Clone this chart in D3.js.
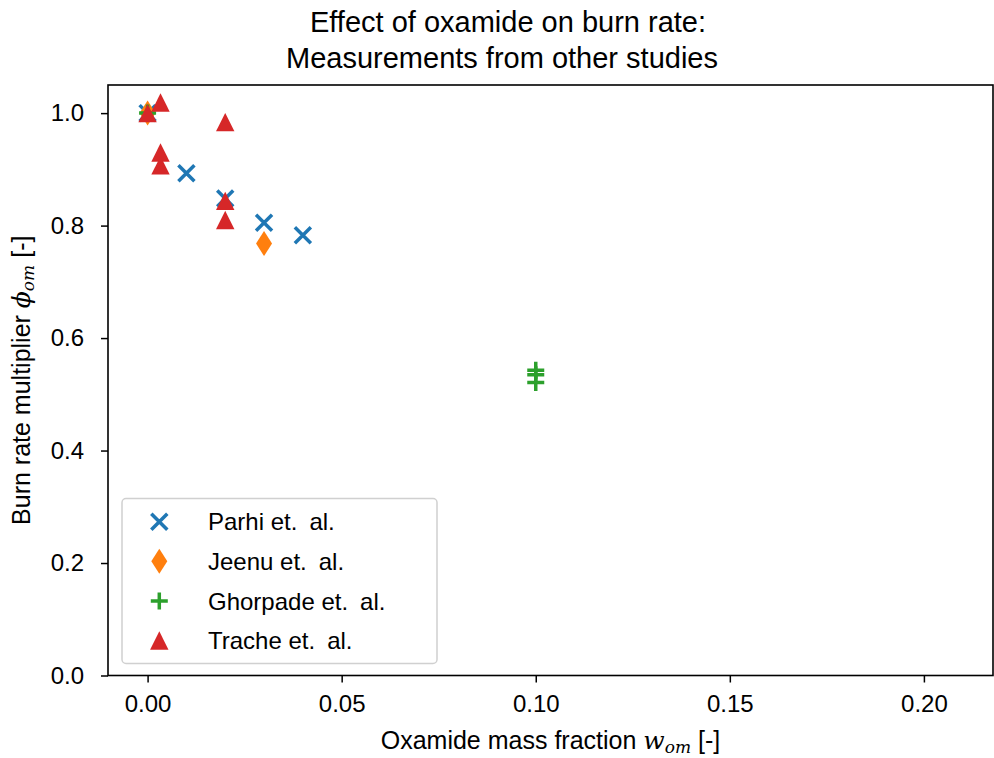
<!DOCTYPE html>
<html>
<head>
<meta charset="utf-8">
<script src="https://cdn.jsdelivr.net/npm/d3@7"></script>
<style>
  body { margin: 0; background: #fff; }
  text { font-family: "Liberation Sans", Arial, sans-serif; fill: #000; }
</style>
</head>
<body>
<svg width="994" height="758"></svg>
<script>
// values
var parhiX = [0, 0.01, 0.02, 0.03, 0.04];
var parhiY = [1.0, 0.893, 0.848, 0.805, 0.783];
var jeenuX = [0, 0.03];
var jeenuY = [1.0, 0.768];
var ghorpadeX = [0, 0.1, 0.1, 0.1];
var ghorpadeY = [1.0, 0.543, 0.535, 0.521];
var tracheX = [0, 0.00333, 0.00333, 0.00333, 0.02, 0.02, 0.02];
var tracheY = [1.0, 1.019, 0.930, 0.907, 0.984, 0.844, 0.810];
var xTicks = [0, 0.05, 0.1, 0.15, 0.2];
var yTicks = [0, 0.2, 0.4, 0.6, 0.8, 1.0];

var series = [
  {name: "Parhi et.\u2002al.", xs: parhiX, ys: parhiY, color: "#1f77b4", marker: "x"},
  {name: "Jeenu et.\u2002al.", xs: jeenuX, ys: jeenuY, color: "#ff7f0e", marker: "d"},
  {name: "Ghorpade et.\u2002al.", xs: ghorpadeX, ys: ghorpadeY, color: "#2ca02c", marker: "+"},
  {name: "Trache et.\u2002al.", xs: tracheX, ys: tracheY, color: "#d62728", marker: "^"}
];

// plot box (named to avoid clashing with window.top)
var pLeft = 108, pRight = 993, pTop = 85, pBottom = 675.5;
var svg = d3.select("svg");

var x = d3.scaleLinear().domain([-0.0102, 0.2178]).range([pLeft, pRight]);
var y = d3.scaleLinear().domain([0, 1.05]).range([pBottom, pTop]);

// marker drawing
function drawMarker(g, type, color) {
  if (type === "x") {
    g.append("path").attr("d", "M-8,-8L8,8M-8,8L8,-8")
      .attr("stroke", color).attr("stroke-width", 3.5).attr("fill", "none");
  } else if (type === "+") {
    g.append("path").attr("d", "M-8.5,0L8.5,0M0,-8.5L0,8.5")
      .attr("stroke", color).attr("stroke-width", 3.5).attr("fill", "none");
  } else if (type === "d") {
    g.append("path").attr("d", "M0,-12.5L8,0L0,12.5L-8,0Z").attr("fill", color);
  } else {
    g.append("path").attr("d", "M0,-9.2L9.2,9.2L-9.2,9.2Z").attr("fill", color);
  }
}

var plot = svg.append("g");
series.forEach(function(s) {
  var pts = s.xs.map(function(v, i) { return [v, s.ys[i]]; });
  plot.selectAll(null).data(pts).enter().append("g")
    .attr("transform", d => "translate(" + x(d[0]) + "," + y(d[1]) + ")")
    .each(function() { drawMarker(d3.select(this), s.marker, s.color); });
});

// axes
var xAxis = svg.append("g").attr("transform", "translate(0," + pBottom + ")")
  .call(d3.axisBottom(x).tickValues(xTicks).tickFormat(d3.format(".2f")).tickSize(7).tickPadding(8));
var yAxis = svg.append("g").attr("transform", "translate(" + pLeft + ",0)")
  .call(d3.axisLeft(y).tickValues(yTicks).tickFormat(d3.format(".1f")).tickSize(7).tickPadding(17));
[xAxis, yAxis].forEach(function(a) {
  a.select(".domain").remove();
  a.selectAll("line").attr("stroke", "#000").attr("stroke-width", 1.5);
  a.selectAll("text").style("font-size", "24px").attr("fill", "#000");
});
xAxis.selectAll("text").attr("dy", "0.9em");

svg.append("rect").attr("x", pLeft).attr("y", pTop)
  .attr("width", pRight - pLeft).attr("height", pBottom - pTop)
  .attr("fill", "none").attr("stroke", "#000").attr("stroke-width", 1.6);

// legend
var leg = svg.append("g");
leg.append("rect").attr("x", 122).attr("y", 498.5).attr("width", 315).attr("height", 165)
  .attr("rx", 4).attr("fill", "#fff").attr("fill-opacity", 0.8)
  .attr("stroke", "#d0d0d0").attr("stroke-width", 1.5);
series.forEach(function(s, i) {
  var cy = 521.7 + i * 39.6;
  var g = leg.append("g").attr("transform", "translate(159.3," + cy + ")");
  drawMarker(g, s.marker, s.color);
  leg.append("text").attr("x", 208).attr("y", cy).attr("dy", "0.36em")
    .style("font-size", "24px").text(s.name);
});

// title
var title = svg.append("text").attr("text-anchor", "middle").style("font-size", "29px");
title.append("tspan").attr("x", 508).attr("y", 32).text("Effect of oxamide on burn rate:");
title.append("tspan").attr("x", 502).attr("y", 68).text("Measurements from other studies");

// x label
var xl = svg.append("text").attr("x", (pLeft + pRight) / 2).attr("y", 749)
  .attr("text-anchor", "middle").style("font-size", "25px");
xl.append("tspan").text("Oxamide mass fraction ");
xl.append("tspan").style("font-style", "italic").style("font-family", "DejaVu Serif, serif").text("w");
xl.append("tspan").attr("dy", 4).style("font-size", "17px").style("font-style", "italic")
  .style("font-family", "DejaVu Serif, serif").text("om");
xl.append("tspan").attr("dy", -4).text(" [-]");

// y label
var yl = svg.append("text").attr("transform", "translate(30," + (pTop + pBottom) / 2 + ") rotate(-90)")
  .attr("text-anchor", "middle").style("font-size", "25px");
yl.append("tspan").text("Burn rate multiplier ");
yl.append("tspan").style("font-style", "italic").style("font-family", "DejaVu Serif, serif").text("\u03d5");
yl.append("tspan").attr("dy", 4).style("font-size", "17px").style("font-style", "italic")
  .style("font-family", "DejaVu Serif, serif").text("om");
yl.append("tspan").attr("dy", -4).text(" [-]");
</script>
</body>
</html>
